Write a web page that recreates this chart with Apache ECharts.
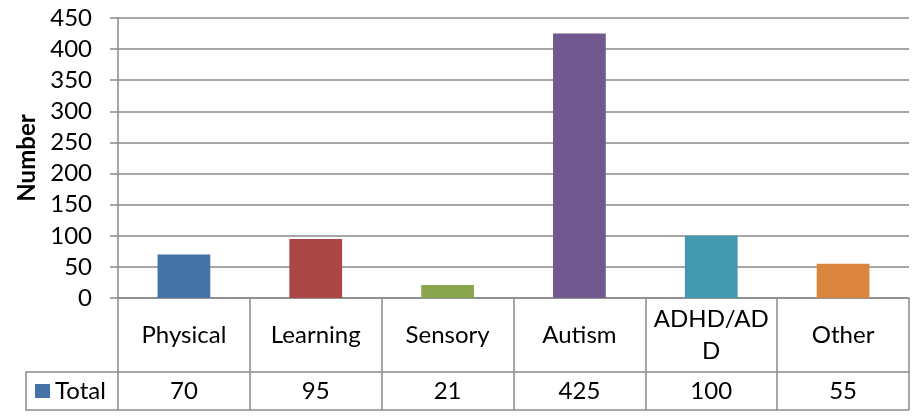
<!DOCTYPE html>
<html>
<head>
<meta charset="utf-8">
<script src="https://cdn.jsdelivr.net/npm/echarts@6/dist/echarts.min.js"></script>
<style>
  html, body { margin: 0; padding: 0; background: #fff; }
  #chart { width: 914px; height: 419px; }
</style>
</head>
<body>
<div id="chart"></div>
<script>
const categories = ['Physical', 'Learning', 'Sensory', 'Autism', 'ADHD/ADD', 'Other']
const totals = [70, 95, 21, 425, 100, 55]
const yTicks = [0, 50, 100, 150, 200, 250, 300, 350, 400, 450]
const seriesName = 'Total'

// excel 2007 style palette, one colour per category
const palette = ['#4572A7', '#AA4643', '#89A54E', '#71588F', '#4198AF', '#DB843D']
const lineColor = '#8a8a8a'
const font = 'Lato, "Open Sans", sans-serif'

const chart = echarts.init(document.getElementById('chart'))

const option = {
  backgroundColor: '#fff',
  animation: false,
  grid: { left: 118, right: 5, top: 18, bottom: 121 },
  xAxis: [
    {
      type: 'category',
      data: categories,
      position: 'bottom',
      axisLine: { show: true, lineStyle: { color: lineColor, width: 1.5 } },
      axisTick: { show: true, interval: 0, length: 112, lineStyle: { color: lineColor, width: 1.5 } },
      axisLabel: {
        interval: 0, margin: 37, verticalAlign: 'middle', color: '#000', fontSize: 24, fontFamily: font,
        width: 122, overflow: 'breakAll', lineHeight: 32
      }
    },
    {
      // data table row under the category labels
      type: 'category',
      data: totals.map(String),
      position: 'bottom',
      offset: 74,
      axisLine: { show: true, lineStyle: { color: lineColor, width: 1.5 } },
      axisTick: { show: false },
      axisLabel: { interval: 0, margin: 19, verticalAlign: 'middle', color: '#000', fontSize: 24, fontFamily: font }
    }
  ],
  yAxis: {
    type: 'value',
    min: yTicks[0],
    max: yTicks[yTicks.length - 1],
    interval: yTicks[1] - yTicks[0],
    name: 'Number',
    nameLocation: 'middle',
    nameGap: 78,
    nameTextStyle: { color: '#000', fontSize: 24, fontWeight: 'bold', fontFamily: font },
    axisLine: { show: true, lineStyle: { color: lineColor, width: 1.5 } },
    axisTick: { show: true, length: 8, lineStyle: { color: lineColor, width: 1.5 } },
    axisLabel: { margin: 26, color: '#000', fontSize: 24, fontFamily: font },
    splitLine: { lineStyle: { color: lineColor, width: 1.5 } }
  },
  series: [{
    name: seriesName,
    type: 'bar',
    xAxisIndex: 0,
    barWidth: '40%',
    data: totals.map((v, i) => ({ value: v, itemStyle: { color: palette[i] } }))
  }],
  graphic: [
    // left header cell of the data table
    {
      type: 'polyline',
      shape: { points: [[118, 372], [26, 372], [26, 410], [909, 410]] },
      style: { stroke: lineColor, lineWidth: 1.5, fill: null }
    },
    { type: 'rect', shape: { x: 35, y: 384, width: 15, height: 14 }, style: { fill: palette[0] } },
    {
      type: 'text', x: 55, y: 391,
      style: { text: seriesName, fill: '#000', fontSize: 24, fontFamily: font, verticalAlign: 'middle' }
    }
  ]
}

chart.setOption(option)
</script>
</body>
</html>
